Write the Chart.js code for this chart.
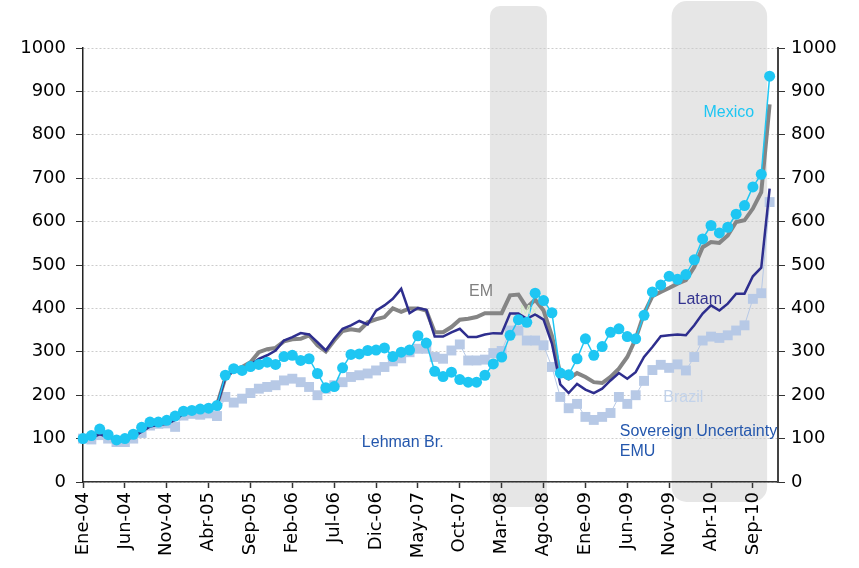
<!DOCTYPE html>
<html>
<head>
<meta charset="utf-8">
<script src="https://cdn.jsdelivr.net/npm/chart.js@4"></script>
<style>
  body { margin: 0; background: #fff; }
</style>
</head>
<body>
<canvas id="myChart" width="859" height="568"></canvas>
<script>
// spanish month names, Ene-04 .. Dic-10
const monthNames = ["Ene", "Feb", "Mar", "Abr", "May", "Jun", "Jul", "Ago", "Sep", "Oct", "Nov", "Dic"];
const years = ["04", "05", "06", "07", "08", "09", "10"];
const labels = [];
years.forEach(yr => {
    monthNames.forEach(m => labels.push(`${m}-${yr}`));
});

// index 100 = Ene-04, last value Nov-10
const mexico = [100, 107, 122, 109, 97, 100, 110, 126, 138, 138, 142, 152,
    163, 165, 168, 170, 176, 246, 261, 257, 266, 271,
    276, 271, 289, 292, 280, 284, 250, 217, 220, 263, 294, 295,
    303, 304, 309, 289, 299, 304, 337, 320, 255, 243, 253,
    236, 230, 230, 246, 272, 288, 338, 374, 368, 435, 418, 390,
    251, 247, 284, 330, 292, 312, 345, 353, 335, 330, 384,
    438, 454, 474, 467, 478, 512, 560, 591, 574, 587,
    617, 637, 680, 709, 935];

const brazil = [100, 98, 108, 100, 92, 92, 100, 113, 130, 134, 135, 127, 153, 157, 155, 158, 152, 196, 183, 192, 205,
    215, 219, 223, 234, 238, 230, 219, 200, 215, 223, 230, 242, 246, 250, 257, 265, 278, 285, 299, 307, 307,
    288, 284, 303, 317, 280, 280, 282, 297, 302, 349, 349, 326, 326, 315, 265,
    196, 170, 180, 150, 143, 150, 159, 196, 180, 200, 233,
    258, 270, 263, 271, 257, 288, 326, 335, 332, 338, 349, 361, 422, 435, 645];

const em = [100, 104, 112, 106, 98, 99, 106, 118, 130, 134, 136, 145, 160, 168, 167, 170, 178,
    240, 258, 265, 276, 299,
    306, 309, 324, 329, 330, 338,
    315, 301, 326, 348, 352, 349,
    368, 375, 380, 400, 392, 400,
    400, 395, 345, 345, 357,
    374, 376, 380, 389, 389, 389,
    430, 432, 402, 420, 395, 337,
    249, 238, 251, 242, 230, 228,
    242, 261, 288, 330, 388,
    428, 438, 447, 457, 465,
    495, 541, 553, 551, 568,
    599, 603, 630, 668, 870];

const latam = [100, 103, 110, 104, 96, 97, 104, 116, 128, 132, 134, 143, 158, 165, 165, 168, 175,
    242, 255, 262, 270, 284, 292, 303,
    326, 334, 343, 340, 322, 303,
    330, 353, 361, 371, 363, 395,
    407, 422, 445, 389, 401, 397,
    335, 335, 345, 353, 334, 334,
    340, 343, 342, 388, 388, 376,
    386, 374, 319, 225, 205, 226,
    213, 205, 215, 234, 251, 238,
    253, 288, 311, 336, 338, 340,
    338, 361, 388, 407, 395, 411,
    434, 434, 474, 494, 676];

// shaded periods, in month index units
const shadeFrom = [48.6, 70.3];
const shadeTo = [55.4, 81.7];

// text notes: [text, month index, value, colour, size]
const notes = [
    ["EM", 46.1, 428, "#808080", 16],
    ["Latam", 71.0, 411, "#33338f", 16],
    ["Mexico", 74.1, 840, "#1ec6f3", 16],
    ["Brazil", 69.3, 184, "#c3d3ea", 16],
    ["Mx", 52.2, 388, "#d3ebc6", 13],
    ["Lehman Br.", 33.3, 80, "#2457ad", 16],
    ["Sovereign Uncertainty", 64.1, 105, "#2457ad", 16],
    ["EMU", 64.1, 61, "#2457ad", 16]
];

const tickFont = { family: "DejaVu Sans", size: 18 };

const shading = {
    id: 'shading',
    beforeDraw(chart) {
        const ctx = chart.ctx;
        const x = chart.scales.x;
        const tops = [6, 1];
        const bottoms = [507, 502];
        const radii = [10, 15];
        ctx.save();
        ctx.fillStyle = "#e6e6e6";
        for (let i = 0; i < shadeFrom.length; i++) {
            const x1 = x.getPixelForValue(shadeFrom[i]);
            const x2 = x.getPixelForValue(shadeTo[i]);
            ctx.beginPath();
            ctx.roundRect(x1, tops[i], x2 - x1, bottoms[i] - tops[i], radii[i]);
            ctx.fill();
        }
        ctx.restore();
    },
    afterDatasetsDraw(chart) {
        const ctx = chart.ctx;
        const x = chart.scales.x;
        const y = chart.scales.y;
        ctx.save();
        ctx.textAlign = "left";
        ctx.textBaseline = "alphabetic";
        notes.forEach(n => {
            ctx.font = `${n[4]}px "Liberation Sans"`;
            ctx.fillStyle = n[3];
            ctx.fillText(n[0], x.getPixelForValue(n[1]), y.getPixelForValue(n[2]));
        });
        ctx.restore();
    }
};

const ctx = document.querySelector("#myChart").getContext("2d");
new Chart(ctx, {
    type: 'line',
    data: {
        labels: labels,
        datasets: [{
            label: "Mexico",
            data: mexico,
            borderColor: "#1ec6f3",
            backgroundColor: "#1ec6f3",
            borderWidth: 1.5,
            pointRadius: 5.5,
            pointBorderWidth: 0,
            pointStyle: "circle"
        }, {
            label: "Latam",
            data: latam,
            borderColor: "#2e2e8e",
            borderWidth: 2.5,
            pointRadius: 0
        }, {
            label: "EM",
            data: em,
            borderColor: "#858585",
            borderWidth: 4,
            pointRadius: 0
        }, {
            label: "Brazil",
            data: brazil,
            borderColor: "#b7c9e6",
            backgroundColor: "#b7c9e6",
            borderWidth: 1,
            pointRadius: 7,
            pointBorderWidth: 0,
            pointStyle: "rect"
        }]
    },
    options: {
        responsive: false,
        animation: false,
        devicePixelRatio: 1,
        layout: { padding: { top: 48, left: 0, right: 0, bottom: 0 } },
        plugins: {
            legend: { display: false },
            tooltip: { enabled: false }
        },
        elements: { line: { tension: 0 } },
        scales: {
            x: {
                grid: {
                    drawOnChartArea: false,
                    tickLength: 6,
                    tickWidth: 1.5,
                    tickColor: c => (c.index % 5 === 0 ? "#333" : "rgba(0,0,0,0)")
                },
                border: { color: "#333", width: 1.5 },
                ticks: {
                    autoSkip: false,
                    minRotation: 90,
                    maxRotation: 90,
                    padding: 4,
                    color: "#000",
                    font: tickFont,
                    callback: (v, i) => (i % 5 === 0 ? labels[i] : "")
                },
                afterFit: s => { s.height = 86; }
            },
            y: {
                position: "left",
                min: 0,
                max: 1000,
                ticks: { stepSize: 100, padding: 10, color: "#000", font: tickFont, callback: v => String(v) },
                grid: { color: "#cccccc", lineWidth: 1, tickColor: "#333", tickLength: 7 },
                border: { color: "#222", width: 1.5, dash: [2, 2] },
                afterFit: s => { s.width = 83; }
            },
            y2: {
                position: "right",
                min: 0,
                max: 1000,
                ticks: { stepSize: 100, padding: 6, color: "#000", font: tickFont, callback: v => String(v) },
                grid: { drawOnChartArea: false, tickColor: "#333", tickLength: 7 },
                border: { color: "#444", width: 2 },
                afterFit: s => { s.width = 81; }
            }
        }
    },
    plugins: [shading]
});
</script>
</body>
</html>
